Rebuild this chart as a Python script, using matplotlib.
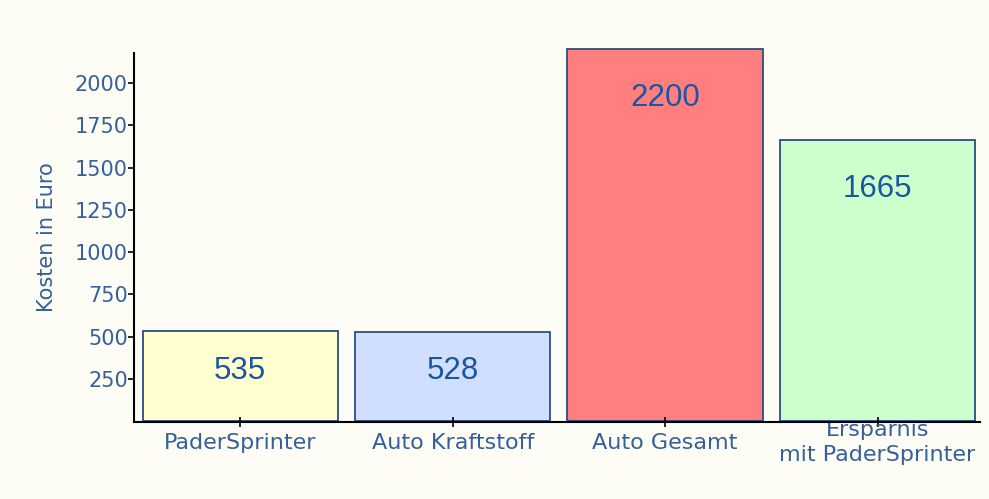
import matplotlib.pyplot as plt

categories = ["PaderSprinter", "Auto Kraftstoff", "Auto Gesamt", "Ersparnis\nmit PaderSprinter"]
costs = [535, 528, 2200, 1665]
bar_colors = ["#ffffd0", "#d0dfff", "#ff7f7f", "#ccffcc"]
y_ticks = [250, 500, 750, 1000, 1250, 1500, 1750, 2000]

text_color = "#35609a"
value_color = "#1a55a0"
bg = "#fdfdf6"

fig = plt.figure(figsize=(9.89, 4.99), dpi=100, facecolor=bg)
ax = fig.add_axes([0.1355, 0.1549, 0.855, 0.7389], facecolor=bg)

x = list(range(len(categories)))
bars = ax.bar(x, costs, width=0.92, color=bar_colors, edgecolor="#2b4d80",
              linewidth=1.3, clip_on=False)

# label offsets below bar top (points)
offsets = [-29, -28, -35, -35.5]
for b, v, off in zip(bars, costs, offsets):
    ax.annotate(str(v), (b.get_x() + b.get_width() / 2, v), xytext=(0, off),
                textcoords="offset points", ha="center", va="center",
                fontsize=22.5, color=value_color, family="Liberation Sans",
                annotation_clip=False)

ax.set_xlim(-0.5, 3.48)
ax.set_ylim(-3, 2178)
ax.set_yticks(y_ticks)
ax.set_xticks(x)
ax.set_xticklabels(categories, fontsize=16, color=text_color)
for lab in ax.get_xticklabels():
    lab.set_va("center")
    lab.set_linespacing(1.3)
ax.tick_params(axis="x", direction="inout", length=7, width=1.2, pad=11.5)
ax.tick_params(axis="y", direction="out", length=4, width=1.2, pad=0.5,
               labelsize=15, labelcolor=text_color)
ax.set_ylabel("Kosten in Euro", fontsize=15, color=text_color, labelpad=13)

for s in ["top", "right"]:
    ax.spines[s].set_visible(False)
for s in ["left", "bottom"]:
    ax.spines[s].set_linewidth(1.5)
    ax.spines[s].set_zorder(3)

fig.savefig("out.png", dpi=100, facecolor=bg)
